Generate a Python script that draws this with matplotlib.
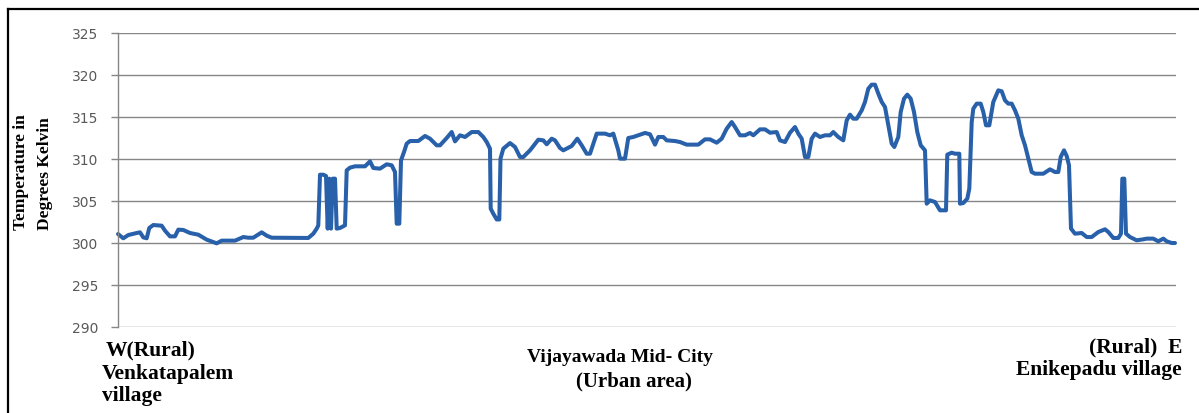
import matplotlib
matplotlib.use("Agg")
import matplotlib.pyplot as plt
from matplotlib.lines import Line2D

# Position along the W-E transect (arbitrary units) and land surface temperature (K)
position = [
    0, 5.3, 10.3, 18.7, 22, 25.3, 28.7, 31.3, 35.3, 43.7,
    47, 52, 57, 60.3, 65.3, 72, 80.3, 88.7, 98.7, 103.7,
    117, 125.3, 130.3, 135.3, 143.7, 148.7, 153.7, 182, 190.3, 195.3,
    198.7, 200.3, 202, 205.3, 208, 209.7, 211.3, 213, 214.7, 217,
    218.7, 222, 227, 228.7, 232, 237, 247, 252, 255.3, 262,
    268.7, 273.7, 277, 278.7, 281.3, 283, 286, 288.7, 292, 300.3,
    307, 312, 318.7, 322, 328.7, 333.7, 337, 342, 347, 353.7,
    360.3, 365.3, 368.7, 372, 372.7, 375.3, 378.7, 381.3, 382.5, 385.3,
    392, 397, 402, 405.3, 412, 420.3, 425.3, 428.7, 433.7, 437,
    442, 445.3, 453.7, 459.3, 463.7, 468.7, 472, 478.7, 487, 492,
    495.3, 500.3, 502, 507, 510.3, 515.3, 520.3, 527, 532, 537,
    540.3, 545.3, 548.7, 557, 562, 568.7, 580.3, 587, 592, 598.7,
    603.7, 608.7, 613.7, 617, 622, 627, 632, 635.3, 642, 647,
    652, 658.7, 662, 667, 672, 677, 680.3, 683.7, 687, 690.3,
    693.7, 697, 702, 707, 712, 715.3, 720.3, 725.3, 728.7, 732,
    735.3, 738.7, 743.7, 747, 750.3, 753.7, 757, 760.3, 763.7, 767,
    770.3, 773.7, 776.3, 780.3, 782.7, 786, 789.3, 792.7, 796, 799.3,
    802.7, 807, 808.7, 812, 817, 822, 828, 829.3, 833.7, 837,
    841.3, 842, 845.3, 849.3, 851.3, 853.7, 855.3, 858.7, 862.7, 865.3,
    868, 871.3, 875.3, 880.3, 883.7, 887, 890.3, 893.7, 897, 900.3,
    903.7, 907, 910.3, 913.7, 917, 925.3, 932, 937, 940.3, 942.7,
    946, 948.7, 951, 953, 957, 963.7, 968.7, 973.7, 980.3, 987,
    990.3, 995.3, 1000.3, 1003, 1004.3, 1006.3, 1008, 1012, 1018.7, 1025.3,
    1028.7, 1035.3, 1040.3, 1045.3, 1048.7, 1053.7, 1057,
]
temperature_k = [
    301.07, 300.56, 300.95, 301.19, 301.27, 300.67, 300.56, 301.79, 302.14, 302.06,
    301.47, 300.79, 300.79, 301.59, 301.55, 301.19, 300.99, 300.40, 299.96, 300.28,
    300.28, 300.71, 300.63, 300.63, 301.27, 300.87, 300.63, 300.60, 300.60, 301.11,
    301.71, 302.10, 308.13, 308.13, 307.98, 301.71, 307.66, 301.71, 307.66, 307.66,
    301.71, 301.79, 302.10, 308.65, 308.97, 309.13, 309.13, 309.72, 308.93, 308.85,
    309.37, 309.25, 308.45, 302.30, 302.30, 309.84, 310.83, 311.83, 312.14, 312.14,
    312.74, 312.42, 311.63, 311.63, 312.50, 313.21, 312.10, 312.82, 312.62, 313.21,
    313.21, 312.62, 312.02, 311.23, 304.09, 303.49, 302.80, 302.80, 310.04, 311.23,
    311.90, 311.43, 310.24, 310.24, 311.03, 312.30, 312.22, 311.75, 312.42, 312.22,
    311.31, 311.03, 311.55, 312.42, 311.63, 310.63, 310.63, 313.02, 313.02, 312.82,
    313.02, 311.03, 310.04, 310.04, 312.50, 312.62, 312.82, 313.10, 312.94, 311.71,
    312.62, 312.62, 312.22, 312.14, 312.02, 311.71, 311.71, 312.34, 312.34, 311.94,
    312.42, 313.61, 314.40, 313.81, 312.82, 312.82, 313.10, 312.82, 313.53, 313.53,
    313.13, 313.21, 312.22, 312.02, 313.13, 313.81, 313.02, 312.42, 310.24, 310.24,
    312.42, 313.02, 312.62, 312.82, 312.82, 313.21, 312.62, 312.22, 314.60, 315.28,
    314.80, 314.80, 315.79, 316.79, 318.37, 318.85, 318.85, 317.78, 316.79, 316.19,
    314.01, 311.83, 311.43, 312.62, 315.60, 317.18, 317.66, 317.18, 315.60, 313.21,
    311.63, 311.03, 304.68, 305.08, 304.88, 303.89, 303.89, 310.52, 310.75, 310.63,
    310.63, 304.68, 304.76, 305.28, 306.47, 314.40, 315.99, 316.59, 316.59, 315.60,
    314.01, 314.01, 316.79, 318.17, 318.06, 316.98, 316.59, 316.59, 315.79, 314.80,
    312.82, 311.63, 310.04, 308.45, 308.25, 308.25, 308.77, 308.45, 308.45, 310.24,
    311.03, 310.36, 309.25, 301.71, 301.11, 301.19, 300.71, 300.71, 301.31, 301.63,
    301.31, 300.60, 300.60, 301.11, 307.66, 307.66, 301.11, 300.71, 300.32, 300.44,
    300.52, 300.52, 300.20, 300.52, 300.20, 300.00, 300.00,
]
y_ticks = [290, 295, 300, 305, 310, 315, 320, 325]
y_label = "Temperature in\nDegrees Kelvin"

W, H = 1199, 414
fig = plt.figure(figsize=(W / 100, H / 100), dpi=100)
fig.patch.set_facecolor("white")

ax = fig.add_axes([118 / W, 1 - 328 / H, (1176 - 118) / W, (328 - 34) / H])
ax.plot(position, temperature_k, color="#2860AA", lw=2.9,
        solid_joinstyle="round", solid_capstyle="round", clip_on=False)
ax.set_xlim(0, 1058)
ax.set_ylim(290, 325)
ax.set_yticks(y_ticks)
ax.set_xticks([])
ax.grid(axis="y", color="#868686", lw=1.0)
ax.set_axisbelow(True)
for s in ["top", "right", "bottom"]:
    ax.spines[s].set_visible(False)
ax.spines["left"].set_color("#868686")
ax.spines["left"].set_linewidth(1.0)
ax.tick_params(axis="y", length=4.8, width=1.0, color="#868686",
               labelcolor="#595959", labelsize=10, pad=9.5)

serif = ["Liberation Serif", "DejaVu Serif"]
fig.text(33 / W, 1 - 230 / H, y_label, rotation=90, family=serif,
         fontweight="bold", fontsize=12.5, ha="center", va="bottom",
         linespacing=1.7, multialignment="left")

def ftxt(x, y, s, size, ha="left"):
    fig.text(x / W, 1 - y / H, s, family=serif, fontweight="bold",
             fontsize=size, ha=ha, va="center")

ftxt(106, 350, "W(Rural)", 15.5)
ftxt(102, 374, "Venkatapalem", 15.5)
ftxt(102, 396, "village", 15.5)
ftxt(620, 358, "Vijayawada Mid- City", 14, ha="center")
ftxt(634, 381, "(Urban area)", 15, ha="center")
ftxt(1182, 347, "(Rural)  E", 15.5, ha="right")
ftxt(1182, 370, "Enikepadu village", 15.5, ha="right")

# outer frame (left and top edges)
fig.add_artist(Line2D([8 / W, 8 / W], [0, 1 - 10 / H], color="black", lw=1.6,
                      transform=fig.transFigure))
fig.add_artist(Line2D([8 / W, 1], [1 - 10 / H, 1 - 10 / H], color="black", lw=1.6,
                      transform=fig.transFigure))

fig.savefig("out.png", dpi=100)
